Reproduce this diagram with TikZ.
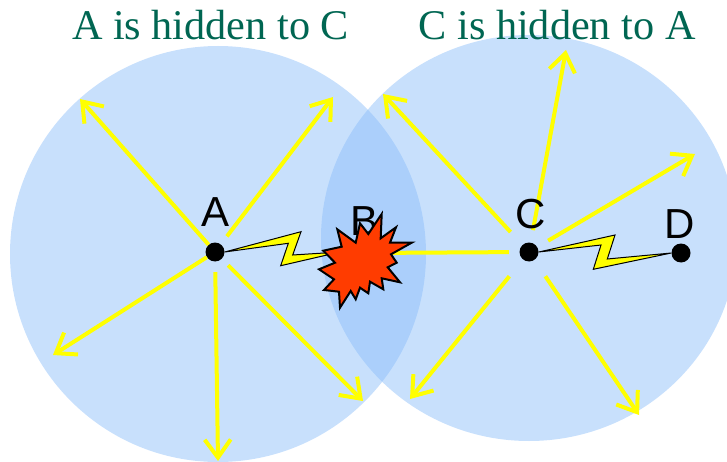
\documentclass[tikz,border=0pt]{standalone}
\usepackage{fontspec}
\setmainfont{Liberation Serif}
\setsansfont{Liberation Sans}
\usepackage{xcolor}
\usetikzlibrary{arrows.meta,positioning}
\definecolor{rangeblue}{RGB}{138,189,249}
\definecolor{titlegreen}{RGB}{0,102,82}
\definecolor{burstred}{RGB}{255,60,0}
\definecolor{signalyellow}{RGB}{255,255,0}
\tikzset{
  rangearea/.style={fill=rangeblue, fill opacity=0.47, draw=none},
  station/.style={circle, fill=black, minimum size=19pt, inner sep=0pt},
  stlabel/.style={font=\fontsize{42}{42}\sffamily, inner sep=0pt, anchor=base},
  htitle/.style={font=\fontsize{42.25}{42}\selectfont, text=titlegreen, inner sep=0pt, anchor=base},
  yarr/.style={-{Straight Barb[length=18pt, width=26pt, line width=4pt]}, signalyellow, line width=4pt},
  ybar/.style={signalyellow, line width=4pt},
  bolt/.style={draw=black, fill=signalyellow, line width=1pt, line join=miter}
}

\begin{document}
\begin{tikzpicture}[x=1pt,y=-1pt]
\useasboundingbox (0,0) rectangle (727,462);
\fill[rangearea] (218,254) ellipse [x radius=208, y radius=208];
\fill[rangearea] (529,238) ellipse [x radius=208, y radius=203];
\node[station] (A) at (215,252) {};
\node[station] (C) at (529,252) {};
\node[station] (D) at (681,253) {};
\coordinate (Bhit) at (365,253);
\coordinate (Bedge) at (340,252);
\foreach \i/\px/\py/\gap in {1/80/99/0, 2/333/97/10, 3/53/355/0, 4/218/461/10.5, 5/363/401/9} {
  \coordinate (a\i) at (\px,\py);
  \draw[yarr, shorten <=\gap pt] (A) -- (a\i);
}
\foreach \i/\px/\py/\gap in {1/383/94/17.5, 2/566/50/12.5, 3/695/154/12.5, 4/639/415/19.5, 5/410/399/21.5} {
  \coordinate (c\i) at (\px,\py);
  \draw[yarr, shorten <=\gap pt] (C) -- (c\i);
}
\draw[ybar, shorten <=10.5pt] (C) -- (Bhit);
\draw[bolt] (A.east) -- (301,231.7) -- (292.7,255) -- (Bedge) -- (280.7,265.7) -- (288.3,243.3) -- cycle;
\draw[bolt] (C.east) -- (615,235) -- (607.3,259) -- (D.west) -- (593.3,269.3) -- (601,245) -- cycle;
\node[stlabel] (Alab) at (216,226) {A};
\node[stlabel] (Blab) at (365,235) {B};
\node[stlabel] (Clab) at (531,228) {C};
\node[stlabel] (Dlab) at (680,238) {D};
\node[htitle] (t1) at (210.5,40) {A is hidden to C};
\node[htitle] (t2) at (557,40) {C is hidden to A};
% collision at B
\draw[fill=burstred, draw=black, line width=2pt] (411.7,242.7) -- (391,254.3) -- (396.7,262.7) -- (387.7,267.3) -- (400,282.3) -- (381.7,278.3) -- (383.3,289.3) -- (370,281.7) -- (368.3,293.3) -- (360,287.7) -- (355.7,299.3) -- (350.7,291) -- (340,307.7) -- (339,291.7) -- (324,290) -- (334,279.3) -- (319,269.3) -- (335,262.7) -- (323.3,250.7) -- (341.7,246.7) -- (337.3,229.3) -- (355.7,242.7) -- (360,223.3) -- (368.3,234) -- (381.7,214) -- (380.7,238.3) -- (396,227.3) -- (390,242.7) -- cycle;
\end{tikzpicture}
\end{document}
